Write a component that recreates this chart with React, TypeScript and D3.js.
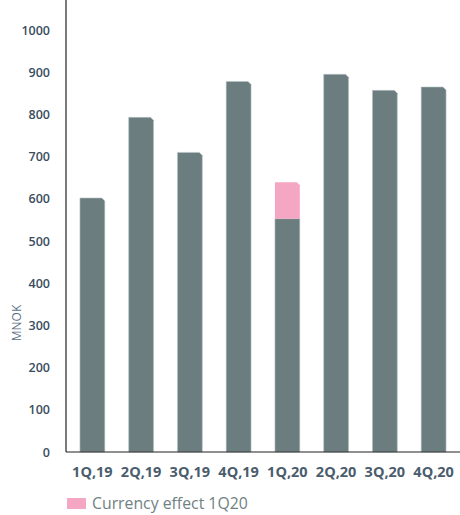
import React from 'react';
import { scaleBand, scaleLinear } from 'd3';

const categories = ['1Q,19', '2Q,19', '3Q,19', '4Q,19', '1Q,20', '2Q,20', '3Q,20', '4Q,20'];
const baseValues = [602, 793, 710, 878, 553, 895, 857, 865];
const currencyEffect = [0, 0, 0, 0, 86, 0, 0, 0];
const yTicks = [0, 100, 200, 300, 400, 500, 600, 700, 800, 900, 1000];
const legendLabel = 'Currency effect 1Q20';

const W = 460;
const H = 515;
const axisX = 66;
const baseY = 452;
const font = "'Open Sans', 'DejaVu Sans', sans-serif";

// bar with a small chamfer on the top right corner
const barPath = (x: number, y0: number, y1: number, w: number, bevel: boolean) => {
  const c = bevel ? 3 : 0;
  return `M${x},${y1} L${x},${y0} L${x + w - c},${y0} L${x + w},${y0 + c} L${x + w},${y1} Z`;
};

export default function App() {
  const x = scaleBand().domain(categories).range([68, 458]).paddingInner(0.49).paddingOuter(0.245);
  const y = scaleLinear().domain([0, 1000]).range([baseY, 30]);
  const bw = x.bandwidth();

  return (
    <svg width={W} height={H} style={{ display: 'block', position: 'absolute', left: 0, top: 0, background: '#fff' }}>
      {/* bars */}
      {categories.map((c, i) => {
        const bx = x(c)!;
        const extra = currencyEffect[i];
        const top = y(baseValues[i]);
        return (
          <g key={c}>
            <path d={barPath(bx, top, baseY, bw, !extra)} fill="#6b7d7f" stroke="#b9c4c4" strokeWidth={0.6} />
            {extra > 0 && (
              <path d={barPath(bx, y(baseValues[i] + extra), top, bw, true)} fill="#f5a6c2" />
            )}
          </g>
        );
      })}

      {/* axes */}
      <line x1={axisX} x2={axisX} y1={0} y2={baseY} stroke="#222" strokeWidth={1.2} />
      <line x1={axisX} x2={W} y1={baseY} y2={baseY} stroke="#222" strokeWidth={1.2} />

      {yTicks.map((t) => (
        <text key={t} x={50} y={y(t) + 4.5} textAnchor="end" fontFamily={font} fontSize={12.5} fontWeight={600} fill="#3a4d60">
          {t}
        </text>
      ))}

      <text
        transform={`translate(21,323) rotate(-90)`}
        textAnchor="middle"
        fontFamily={font}
        fontSize={12}
        fill="#5b7186"
      >
        MNOK
      </text>

      {categories.map((c) => (
        <text
          key={c}
          x={x(c)! + bw / 2}
          y={477}
          textAnchor="middle"
          fontFamily={font}
          fontSize={14.5}
          fontWeight={700}
          fill="#4b5d6d"
        >
          {c}
        </text>
      ))}

      {/* legend */}
      <rect x={67} y={498} width={19} height={11} fill="#f5a6c2" />
      <text x={92} y={509} fontFamily={font} fontSize={15.8} fill="#6f8183">
        {legendLabel}
      </text>
    </svg>
  );
}
